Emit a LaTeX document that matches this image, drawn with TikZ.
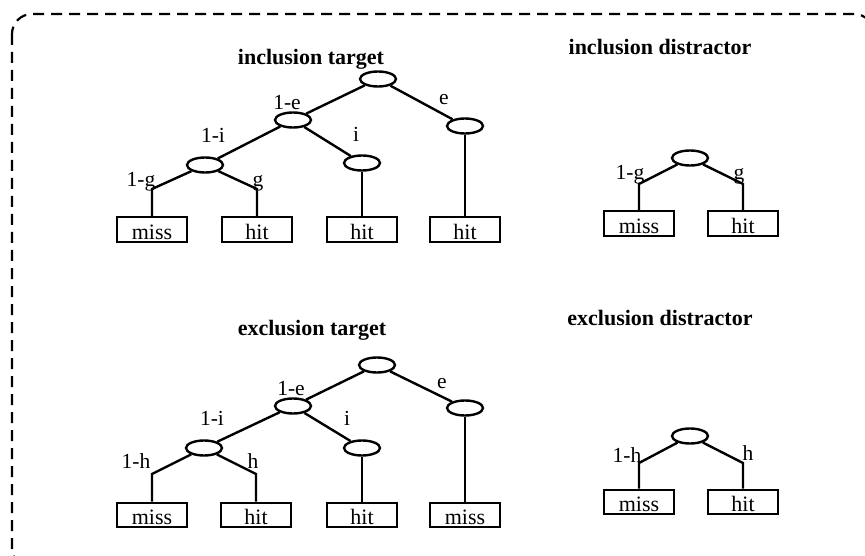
\documentclass[tikz,border=0pt]{standalone}
\usepackage{fontspec}
\setmainfont{Liberation Serif}
\usetikzlibrary{calc,shapes.geometric}
\tikzset{
	knot/.style={draw, ellipse, line width=2.4pt, minimum width=36pt, minimum height=15pt, inner sep=0pt},
	outcome/.style={draw, rectangle, line width=2.4pt, minimum width=70pt, text height=22pt, text depth=2.5pt, inner sep=0pt, font=\fontsize{22}{25}\selectfont},
	prob/.style={anchor=base, inner sep=0pt, font=\fontsize{21.5}{24}\selectfont},
	heading/.style={anchor=base, inner sep=0pt, font=\fontsize{22}{26}\selectfont\bfseries},
	branch/.style={line width=2.4pt},
	frame/.style={line width=2.2pt, dash pattern=on 11pt off 7pt, rounded corners=20pt}
}

\begin{document}
\begin{tikzpicture}[x=1pt, y=-1pt]
		%%%%% START %%%%%
		\useasboundingbox (0, 0) rectangle (865, 556);
		\draw[frame] (12, 14) rectangle (874, 568);
		
		% inclusion target
		\node[heading] (ti) at (311, 65) {inclusion target};
		\node[knot] (r1) at (378, 79) {};
		\node[knot] (a1) at (293, 120) {};
		\node[knot] (b1) at (465, 126) {};
		\node[knot] (c1) at (205, 165) {};
		\node[knot] (d1) at (362, 163) {};
		\coordinate (j1) at (152, 189);
		\coordinate (k1) at (257, 189);
		\node[outcome] (m11) at (152, 229.5) {miss};
		\node[outcome] (m12) at (257, 229.5) {hit};
		\node[outcome] (m13) at (362, 229.5) {hit};
		\node[outcome] (m14) at (465, 229.5) {hit};
		\draw[branch] (r1) -- (a1);
		\draw[branch] (r1) -- (b1);
		\draw[branch] (a1) -- (c1);
		\draw[branch] (a1) -- (d1);
		\draw[branch] (c1) -- (j1) -- (m11);
		\draw[branch] (c1) -- (k1) -- (m12);
		\draw[branch] (d1) -- (m13);
		\draw[branch] (b1) -- (m14);
		\node[prob] (p11) at (287, 110) {1-e};
		\node[prob] (p12) at (444, 105) {e};
		\node[prob] (p13) at (213, 143) {1-i};
		\node[prob] (p14) at (356, 142) {i};
		\node[prob] (p15) at (141, 187) {1-g};
		\node[prob] (p16) at (258, 187) {g};
		
		% exclusion target
		\node[heading] (te) at (312, 335) {exclusion target};
		\node[knot] (r2) at (377, 365) {};
		\node[knot] (a2) at (293, 406) {};
		\node[knot] (b2) at (465, 408) {};
		\node[knot] (c2) at (204, 448) {};
		\node[knot] (d2) at (362, 448) {};
		\coordinate (j2) at (152, 474);
		\coordinate (k2) at (256, 474);
		\node[outcome] (m21) at (152, 515) {miss};
		\node[outcome] (m22) at (256, 515) {hit};
		\node[outcome] (m23) at (362, 515) {hit};
		\node[outcome] (m24) at (465, 515) {miss};
		\draw[branch] (r2) -- (a2);
		\draw[branch] (r2) -- (b2);
		\draw[branch] (a2) -- (c2);
		\draw[branch] (a2) -- (d2);
		\draw[branch] (c2) -- (j2) -- (m21);
		\draw[branch] (c2) -- (k2) -- (m22);
		\draw[branch] (d2) -- (m23);
		\draw[branch] (b2) -- (m24);
		\node[prob] (p21) at (291, 395) {1-e};
		\node[prob] (p22) at (442, 388) {e};
		\node[prob] (p23) at (212, 425) {1-i};
		\node[prob] (p24) at (347, 425) {i};
		\node[prob] (p25) at (136, 468) {1-h};
		\node[prob] (p26) at (253, 468) {h};
		
		% inclusion distractor
		\node[heading] (di) at (660, 55) {inclusion distractor};
		\node[knot] (r3) at (690, 158) {};
		\coordinate (j3) at (639, 184);
		\coordinate (k3) at (743, 184);
		\node[outcome] (m31) at (639, 223.5) {miss};
		\node[outcome] (m32) at (743, 223.5) {hit};
		\draw[branch] (r3) -- (j3) -- (m31);
		\draw[branch] (r3) -- (k3) -- (m32);
		\node[prob] (p31) at (630, 180) {1-g};
		\node[prob] (p32) at (739, 180) {g};
		
		% exclusion distractor
		\node[heading] (de) at (660, 325) {exclusion distractor};
		\node[knot] (r4) at (690, 436) {};
		\coordinate (j4) at (639, 463);
		\coordinate (k4) at (743, 463);
		\node[outcome] (m41) at (639, 502) {miss};
		\node[outcome] (m42) at (743, 502) {hit};
		\draw[branch] (r4) -- (j4) -- (m41);
		\draw[branch] (r4) -- (k4) -- (m42);
		\node[prob] (p41) at (627, 462) {1-h};
		\node[prob] (p42) at (748, 460) {h};
		%%%%% END %%%%%
	\end{tikzpicture}
\end{document}
